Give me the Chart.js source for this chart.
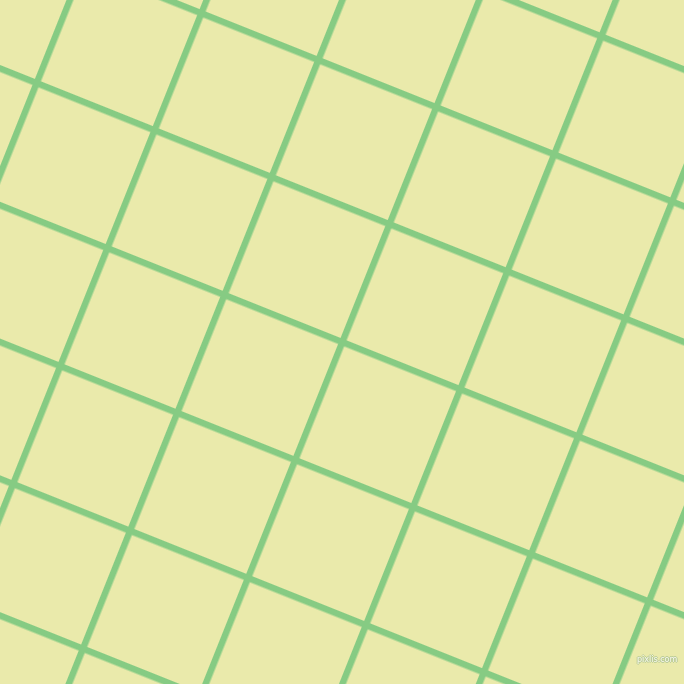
<!DOCTYPE html>
<html>
<head>
<meta charset="utf-8">
<script src="https://cdn.jsdelivr.net/npm/chart.js@4.4.1/dist/chart.umd.min.js"></script>
<style>
  html, body { margin: 0; padding: 0; width: 684px; height: 684px; overflow: hidden; background: #eaeaab; }
  #wrap { position: absolute; left: -165.5px; top: -165.5px; width: 1015px; height: 1015px; transform: rotate(21.8deg); }
  #mark { position: absolute; left: 637px; top: 655px; font: 8px "DejaVu Sans", sans-serif; color: #f8f8ec;
          text-shadow: 1px 0 0 #b4c896, -1px 0 0 #b4c896, 0 1px 0 #b4c896, 0 -1px 0 #b4c896; }
</style>
</head>
<body>
<div id="wrap"><canvas id="grid"></canvas></div>
<div id="mark">pixlis.com</div>
<script>
// grid positions (axis units), one tick = one cell
const gridCols = [-4, -3, -2, -1, 0, 1, 2, 3, 4];
const gridRows = [-4, -3, -2, -1, 0, 1, 2, 3, 4];

const lineColor = '#86cb83';

function axis(ticks) {
    return {
        type: 'linear',
        min: ticks[0],
        max: ticks[ticks.length - 1],
        afterBuildTicks: s => { s.ticks = ticks.map(v => ({ value: v })); },
        ticks: { display: false },
        border: { display: false },
        grid: { color: lineColor, lineWidth: 6.5, drawTicks: false }
    };
}

const ctx = document.getElementById('grid').getContext('2d');
new Chart(ctx, {
    type: 'scatter',
    data: { datasets: [{ data: [] }] },
    options: {
        responsive: true,
        maintainAspectRatio: false,
        animation: false,
        layout: { padding: 0 },
        scales: { x: axis(gridCols), y: axis(gridRows) },
        plugins: { legend: { display: false }, tooltip: { enabled: false } }
    }
});
</script>
</body>
</html>
